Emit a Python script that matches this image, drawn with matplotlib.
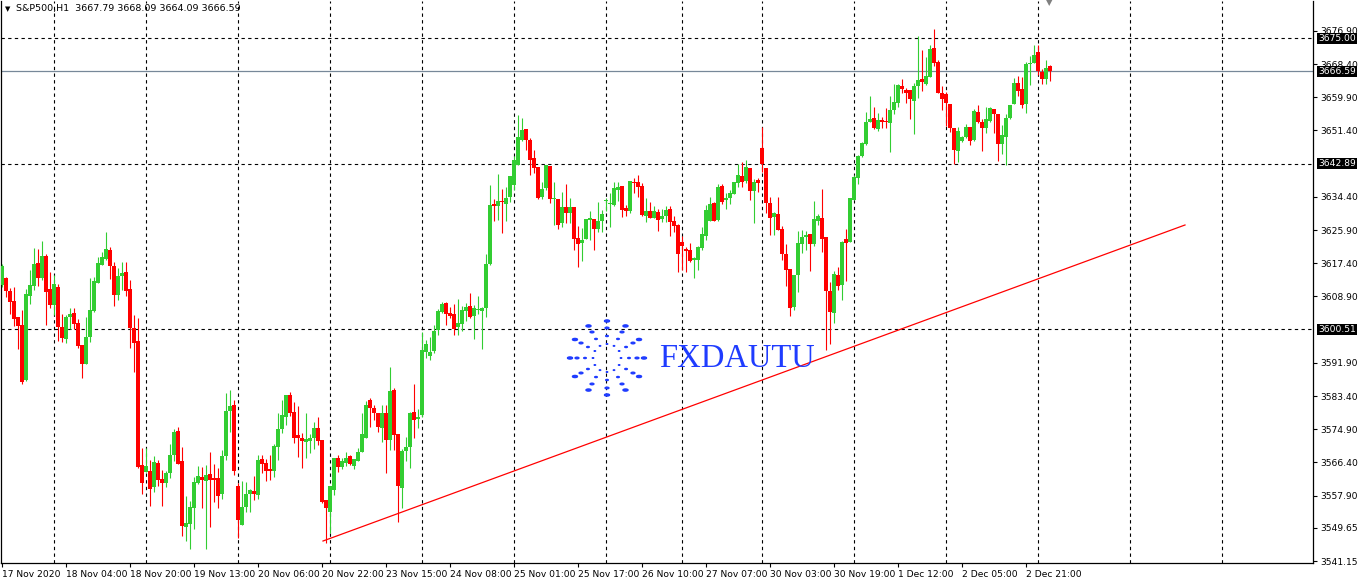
import matplotlib
matplotlib.use("Agg")
import matplotlib.pyplot as plt
from matplotlib.transforms import blended_transform_factory
import numpy as np

# ---------------- data ----------------
header_text = "S&P500,H1  3667.79 3668.09 3664.09 3666.59"

opens = [
    3611.8, 3613.6, 3610.3, 3607.7, 3603.6, 3601.6, 3587.5, 3609.0, 3611.6, 3617.5,
    3613.6, 3619.3, 3610.8, 3606.7, 3611.3, 3601.1, 3598.0, 3603.6, 3604.7, 3602.1,
    3596.5, 3591.6, 3598.5, 3605.2, 3612.4, 3617.0, 3618.5, 3620.8, 3616.7, 3609.3,
    3614.1, 3615.2, 3610.8, 3600.8, 3597.5, 3565.8, 3564.0, 3564.2, 3560.1, 3566.3,
    3562.2, 3561.2, 3563.7, 3568.3, 3574.5, 3566.8, 3549.9, 3550.7, 3554.8, 3561.2,
    3562.7, 3561.7, 3563.5, 3562.4, 3562.4, 3558.3, 3568.1, 3579.6, 3581.1, 3560.4,
    3550.4, 3555.0, 3558.3, 3559.1, 3558.1, 3567.3, 3566.3, 3564.7, 3564.2, 3570.4,
    3575.0, 3578.0, 3583.7, 3579.3, 3573.4, 3572.7, 3571.6, 3571.9, 3572.7, 3575.2,
    3572.2, 3556.8, 3553.7, 3559.4, 3567.6, 3565.2, 3566.3, 3568.1, 3565.5, 3566.8,
    3569.1, 3572.7, 3582.4, 3580.4, 3579.1, 3575.2, 3579.1, 3572.2, 3585.0, 3573.7,
    3559.9, 3569.3, 3570.4, 3579.3, 3577.5, 3578.6, 3594.7, 3593.7, 3595.0, 3600.3,
    3604.9, 3607.2, 3604.7, 3604.4, 3601.1, 3601.9, 3605.2, 3606.5, 3603.9, 3605.4,
    3605.2, 3605.9, 3617.2, 3632.6, 3632.1, 3633.3, 3632.6, 3634.4, 3637.4, 3642.6,
    3649.0, 3651.8, 3649.0, 3644.4, 3642.0, 3634.4, 3636.7, 3642.3, 3633.9, 3633.9,
    3627.7, 3631.8, 3630.3, 3631.8, 3623.9, 3622.6, 3623.6, 3628.5, 3628.7, 3626.2,
    3628.2, 3633.3, 3632.6, 3632.3, 3636.2, 3637.2, 3631.6, 3630.8, 3638.2, 3638.2,
    3637.2, 3629.5, 3630.8, 3629.0, 3630.5, 3628.7, 3629.5, 3631.3, 3628.2, 3627.2,
    3622.8, 3621.1, 3620.8, 3618.2, 3618.2, 3621.3, 3624.4, 3628.2, 3632.8, 3628.5,
    3637.2, 3633.6, 3634.1, 3635.1, 3637.9, 3639.7, 3638.5, 3641.8, 3635.9, 3638.7,
    3646.9, 3641.8, 3632.8, 3629.2, 3630.0, 3626.2, 3619.8, 3615.9, 3606.2, 3614.4,
    3622.3, 3624.1, 3624.9, 3622.3, 3628.2, 3629.0, 3624.1, 3610.3, 3604.7, 3614.4,
    3611.8, 3623.6, 3622.8, 3633.6, 3639.2, 3644.9, 3647.9, 3653.6, 3654.6, 3651.8,
    3654.1, 3653.8, 3653.3, 3656.6, 3658.4, 3662.8, 3661.8, 3661.8, 3658.9, 3662.8,
    3664.6, 3663.3, 3665.1, 3672.5, 3668.9, 3661.0, 3660.7, 3658.2, 3652.0, 3646.1,
    3648.7, 3649.7, 3652.3, 3649.0, 3656.1, 3653.6, 3652.0, 3653.8, 3656.9, 3655.6,
    3647.9, 3649.7, 3654.6, 3658.2, 3663.6, 3662.0, 3658.2, 3668.4, 3668.7, 3671.5,
    3666.4, 3664.6, 3667.79,
]

highs = [
    3617.2, 3613.9, 3611.1, 3611.3, 3603.6, 3605.4, 3610.8, 3615.7, 3621.3, 3621.1,
    3623.1, 3619.8, 3615.2, 3614.4, 3612.1, 3604.4, 3604.2, 3605.9, 3605.9, 3603.1,
    3596.5, 3603.6, 3613.6, 3613.9, 3619.0, 3620.3, 3625.4, 3621.6, 3617.7, 3616.2,
    3617.7, 3617.7, 3613.1, 3604.2, 3603.4, 3570.1, 3570.1, 3567.0, 3568.1, 3567.0,
    3564.5, 3564.2, 3571.1, 3575.0, 3575.5, 3570.4, 3557.8, 3556.5, 3562.7, 3565.5,
    3565.2, 3565.8, 3569.1, 3566.0, 3565.0, 3569.6, 3584.2, 3585.0, 3582.4, 3561.2,
    3561.7, 3561.4, 3559.6, 3563.0, 3568.3, 3568.3, 3567.3, 3568.3, 3571.1, 3579.1,
    3582.4, 3583.7, 3584.4, 3581.9, 3580.9, 3574.0, 3579.1, 3573.7, 3576.8, 3578.0,
    3572.2, 3556.8, 3560.4, 3567.6, 3568.3, 3567.6, 3569.1, 3568.3, 3567.3, 3570.1,
    3579.1, 3582.1, 3582.9, 3581.1, 3579.1, 3581.1, 3581.1, 3590.8, 3585.5, 3573.7,
    3569.9, 3572.9, 3579.3, 3586.5, 3580.1, 3599.8, 3597.8, 3598.5, 3601.6, 3605.7,
    3607.5, 3607.5, 3606.2, 3607.0, 3608.3, 3606.5, 3607.2, 3609.8, 3606.7, 3609.0,
    3606.2, 3619.8, 3637.4, 3633.9, 3640.3, 3636.4, 3636.9, 3639.7, 3644.9, 3655.4,
    3654.6, 3651.8, 3649.5, 3646.4, 3642.0, 3638.2, 3642.6, 3642.3, 3638.2, 3633.9,
    3635.6, 3637.7, 3634.1, 3631.8, 3626.9, 3626.4, 3628.7, 3630.8, 3628.7, 3633.1,
    3631.0, 3634.1, 3635.4, 3638.2, 3638.2, 3637.2, 3632.3, 3638.5, 3639.2, 3640.0,
    3637.9, 3634.1, 3633.1, 3632.1, 3631.3, 3631.3, 3632.1, 3632.1, 3629.5, 3627.5,
    3624.4, 3621.6, 3622.6, 3619.0, 3621.8, 3626.7, 3632.3, 3634.4, 3633.1, 3637.7,
    3637.7, 3635.4, 3636.2, 3638.2, 3642.8, 3643.3, 3643.8, 3641.8, 3639.0, 3639.2,
    3652.3, 3641.8, 3634.4, 3630.5, 3634.4, 3626.9, 3622.3, 3615.9, 3614.4, 3625.7,
    3625.9, 3625.7, 3624.9, 3633.3, 3630.0, 3636.4, 3624.1, 3612.6, 3615.4, 3616.4,
    3623.1, 3626.2, 3634.1, 3640.0, 3645.1, 3648.4, 3656.1, 3660.2, 3657.4, 3655.9,
    3654.8, 3657.2, 3660.2, 3663.3, 3663.3, 3664.6, 3662.3, 3661.8, 3663.6, 3675.6,
    3672.0, 3670.2, 3673.3, 3677.4, 3669.4, 3662.8, 3661.2, 3658.2, 3652.0, 3652.3,
    3650.0, 3653.1, 3652.3, 3656.9, 3657.9, 3654.3, 3657.4, 3657.4, 3656.9, 3655.6,
    3652.8, 3655.6, 3657.9, 3664.8, 3665.3, 3665.1, 3668.9, 3670.5, 3673.3, 3673.3,
    3667.1, 3669.4, 3668.09,
]

lows = [
    3611.3, 3608.8, 3604.4, 3601.3, 3595.5, 3586.5, 3587.3, 3607.0, 3610.6, 3611.6,
    3613.1, 3601.6, 3605.9, 3604.2, 3597.5, 3597.2, 3597.0, 3600.6, 3600.6, 3595.7,
    3588.0, 3591.6, 3597.2, 3604.9, 3612.4, 3617.0, 3618.2, 3613.4, 3606.5, 3608.0,
    3610.6, 3609.0, 3595.7, 3589.6, 3565.0, 3558.3, 3564.0, 3555.3, 3558.8, 3560.4,
    3555.3, 3560.1, 3562.4, 3566.8, 3566.0, 3547.6, 3546.3, 3544.3, 3549.4, 3560.9,
    3554.8, 3544.3, 3549.9, 3556.3, 3554.8, 3557.1, 3567.0, 3574.2, 3563.2, 3547.1,
    3550.4, 3553.7, 3553.7, 3556.8, 3557.1, 3563.7, 3561.7, 3561.9, 3562.7, 3567.0,
    3574.0, 3576.0, 3578.3, 3571.4, 3567.8, 3565.0, 3567.6, 3568.8, 3569.9, 3570.9,
    3556.0, 3545.8, 3548.4, 3558.1, 3564.0, 3564.7, 3565.5, 3565.8, 3564.7, 3566.8,
    3569.1, 3572.7, 3575.5, 3577.3, 3574.2, 3571.6, 3563.7, 3569.6, 3569.6, 3551.2,
    3554.8, 3566.8, 3565.0, 3572.7, 3575.2, 3578.0, 3593.2, 3592.6, 3594.4, 3599.0,
    3604.7, 3601.6, 3603.4, 3599.0, 3599.0, 3600.1, 3602.6, 3603.4, 3598.0, 3604.4,
    3595.5, 3603.6, 3617.0, 3628.2, 3628.5, 3625.2, 3628.2, 3633.1, 3636.2, 3642.6,
    3648.7, 3646.4, 3640.0, 3640.5, 3633.9, 3633.9, 3636.2, 3632.8, 3627.2, 3626.2,
    3626.7, 3627.7, 3627.7, 3620.8, 3616.4, 3618.0, 3623.6, 3623.4, 3620.8, 3625.4,
    3625.4, 3630.8, 3626.7, 3632.1, 3633.3, 3629.2, 3629.5, 3630.3, 3635.4, 3634.4,
    3629.5, 3628.0, 3629.0, 3629.0, 3625.7, 3628.0, 3628.0, 3624.4, 3625.4, 3615.2,
    3615.7, 3615.2, 3617.7, 3613.6, 3615.7, 3620.8, 3623.4, 3628.2, 3628.2, 3628.2,
    3632.6, 3631.3, 3632.6, 3635.1, 3636.9, 3636.9, 3637.9, 3633.6, 3627.7, 3635.6,
    3640.8, 3630.3, 3624.6, 3624.6, 3625.9, 3618.2, 3611.6, 3603.9, 3605.4, 3610.0,
    3620.0, 3620.8, 3615.4, 3621.8, 3627.2, 3620.3, 3595.2, 3596.7, 3602.1, 3610.6,
    3608.0, 3612.9, 3622.8, 3633.6, 3637.7, 3644.6, 3647.7, 3653.6, 3651.8, 3651.3,
    3652.0, 3652.0, 3645.9, 3655.6, 3657.4, 3661.0, 3658.4, 3654.3, 3650.5, 3659.7,
    3661.5, 3663.0, 3665.1, 3667.9, 3661.0, 3656.6, 3652.5, 3651.0, 3642.8, 3643.3,
    3648.4, 3649.5, 3647.7, 3648.7, 3653.3, 3646.1, 3650.8, 3653.6, 3650.8, 3643.6,
    3645.4, 3642.6, 3654.3, 3658.2, 3660.2, 3657.2, 3655.9, 3663.0, 3668.7, 3665.6,
    3663.3, 3663.3, 3664.09,
]

closes = [
    3616.7, 3610.3, 3607.5, 3603.1, 3601.3, 3587.0, 3609.5, 3611.8, 3617.2, 3613.6,
    3619.3, 3610.0, 3606.7, 3612.1, 3601.1, 3598.3, 3603.6, 3604.4, 3601.9, 3596.2,
    3591.6, 3598.5, 3605.4, 3612.9, 3617.5, 3619.0, 3621.1, 3616.7, 3609.3, 3614.1,
    3614.9, 3610.3, 3600.8, 3597.0, 3565.2, 3561.2, 3565.5, 3559.6, 3566.5, 3561.9,
    3561.2, 3563.7, 3568.3, 3574.2, 3566.0, 3550.1, 3550.9, 3555.0, 3561.4, 3563.0,
    3561.9, 3563.2, 3561.9, 3561.9, 3557.8, 3568.1, 3579.6, 3580.9, 3564.2, 3551.7,
    3555.0, 3558.3, 3559.4, 3558.3, 3567.0, 3566.0, 3564.2, 3564.2, 3570.6, 3575.0,
    3578.6, 3583.7, 3579.1, 3572.7, 3572.7, 3571.9, 3572.4, 3572.7, 3575.2, 3571.9,
    3556.3, 3554.8, 3560.4, 3567.6, 3565.2, 3566.8, 3567.6, 3566.0, 3567.3, 3569.1,
    3573.7, 3581.1, 3580.4, 3579.1, 3575.5, 3579.1, 3572.2, 3584.7, 3573.4, 3560.4,
    3569.3, 3570.4, 3579.1, 3577.3, 3578.0, 3595.2, 3596.7, 3594.7, 3600.1, 3605.2,
    3607.0, 3604.4, 3603.9, 3600.6, 3602.1, 3605.4, 3606.2, 3603.6, 3605.9, 3605.7,
    3605.9, 3617.2, 3632.3, 3632.1, 3633.3, 3633.1, 3634.1, 3639.7, 3643.8, 3649.7,
    3651.5, 3649.0, 3643.8, 3641.8, 3634.1, 3636.4, 3642.6, 3633.9, 3634.1, 3627.2,
    3631.8, 3630.3, 3631.8, 3623.6, 3622.3, 3623.4, 3628.7, 3629.0, 3626.2, 3628.2,
    3630.0, 3633.6, 3632.8, 3636.7, 3636.9, 3631.0, 3630.8, 3638.5, 3637.9, 3636.9,
    3629.8, 3630.8, 3629.0, 3630.8, 3628.5, 3629.5, 3631.0, 3628.0, 3626.9, 3619.8,
    3621.8, 3620.5, 3618.0, 3618.8, 3621.6, 3624.9, 3631.0, 3632.6, 3628.2, 3636.9,
    3633.1, 3634.1, 3635.4, 3638.2, 3640.0, 3638.2, 3642.0, 3635.9, 3638.2, 3637.9,
    3642.8, 3632.8, 3629.0, 3630.3, 3625.9, 3619.8, 3615.7, 3605.9, 3614.4, 3622.6,
    3624.1, 3624.6, 3622.3, 3628.7, 3629.5, 3623.6, 3610.3, 3604.9, 3614.7, 3611.6,
    3622.8, 3622.6, 3634.1, 3639.5, 3644.9, 3648.2, 3653.6, 3654.3, 3652.0, 3654.1,
    3653.6, 3653.6, 3656.6, 3658.7, 3663.0, 3662.0, 3661.0, 3659.5, 3662.8, 3664.3,
    3663.8, 3665.3, 3672.3, 3668.7, 3661.0, 3659.5, 3658.4, 3652.0, 3646.4, 3651.3,
    3649.7, 3652.3, 3648.7, 3656.4, 3653.6, 3652.0, 3654.3, 3657.2, 3655.6, 3647.9,
    3650.2, 3654.6, 3657.9, 3663.6, 3661.5, 3657.9, 3668.4, 3668.7, 3670.7, 3666.6,
    3664.6, 3667.4, 3666.59,
]

time_labels = [
    "17 Nov 2020", "18 Nov 04:00", "18 Nov 20:00", "19 Nov 13:00", "20 Nov 06:00",
    "20 Nov 22:00", "23 Nov 15:00", "24 Nov 08:00", "25 Nov 01:00", "25 Nov 17:00",
    "26 Nov 10:00", "27 Nov 07:00", "30 Nov 03:00", "30 Nov 19:00", "1 Dec 12:00",
    "2 Dec 05:00", "2 Dec 21:00",
]
bars_per_label = 16
day_separator_bars = [13, 36, 59, 82, 105, 128, 151, 170, 190, 213, 236, 259, 282, 305]

price_ticks = [3541.15, 3549.65, 3557.90, 3566.40, 3574.90, 3583.40, 3591.90,
               3608.90, 3617.40, 3625.90, 3634.40, 3651.40, 3659.90, 3668.40, 3676.90]
level_lines = [3675.00, 3642.89, 3600.51]
bid_price = 3666.59

trend_bar = [80.25, 295.75]
trend_price = [3546.3, 3627.2]

y_range = [3540.67, 3684.54]
x_range = [-0.25, 327.75]

# ---------------- figure ----------------
W, H = 1361, 582
fig = plt.figure(figsize=(W / 100, H / 100), dpi=100)
fig.patch.set_facecolor("white")
ax = fig.add_axes([1 / W, (H - 563) / H, 1312 / W, 562 / H])
ax.set_facecolor("white")
ax.set_xlim(*x_range)
ax.set_ylim(*y_range)

o = np.array(opens)
h = np.array(highs)
l = np.array(lows)
c = np.array(closes)
n = min(len(o), len(h), len(l), len(c))
o, h, l, c = o[:n], h[:n], l[:n], c[:n]
x = np.arange(n)
up = c >= o
cols = np.where(up, "#32CD32", "#FF0000")

# grid (day separators) and level lines
for b in day_separator_bars:
    ax.axvline(b, color="black", lw=0.8, ls=(0, (3, 3)), zorder=1)
for v in level_lines:
    ax.axhline(v, color="black", lw=0.8, ls=(0, (3, 3)), zorder=1)
ax.axhline(bid_price, color="#778899", lw=0.9, zorder=2)

# candles
ax.vlines(x, l, h, colors=cols, linewidth=0.8, zorder=3)
body_bottom = np.minimum(o, c)
body_h = np.maximum(np.abs(c - o), 0.3)
ax.bar(x, body_h, bottom=body_bottom, width=0.78, color=cols, linewidth=0, zorder=4)

# trend line
ax.plot(trend_bar, trend_price, color="#FF0000", lw=0.9, zorder=5)

# axes styling
for side in ["left", "right", "bottom"]:
    ax.spines[side].set_color("black")
    ax.spines[side].set_linewidth(0.9)
ax.spines["top"].set_visible(False)

ax.yaxis.tick_right()
ax.set_yticks(price_ticks)
ax.set_yticklabels([f"{v:.2f}" for v in price_ticks])
ax.tick_params(axis="y", direction="out", length=3, width=0.8, pad=2,
               labelsize=6.6, colors="black", left=False)

label_pos = [i * bars_per_label for i in range(len(time_labels))]
ax.set_xticks(label_pos)
ax.set_xticklabels(time_labels, ha="left")
ax.tick_params(axis="x", direction="out", length=3, width=0.8, pad=2,
               labelsize=6.6, colors="black")

# highlighted price labels on the right axis
bt = blended_transform_factory(ax.transAxes, ax.transData)
for v in level_lines + [bid_price]:
    ax.text(1.0 + 5 / 1312, v, f"{v:.2f}", transform=bt, color="white",
            fontsize=6.6, va="center", ha="left", zorder=10, clip_on=False,
            bbox=dict(boxstyle="square,pad=0.12", fc="black", ec="none"))

# header text
fig.text(5 / W, 1 - 9 / H, "\u25BC", fontsize=5, color="black", va="center", ha="left")
fig.text(16 / W, 1 - 9 / H, header_text, fontsize=6.8, color="black",
         va="center", ha="left")

# chart shift marker
fig.text(1049 / W, 1 - 3 / H, "\u25BC", fontsize=6, color="#808080",
         va="center", ha="center")

# watermark logo (decoration)
cx, cy = 607, 358
for k in range(12):
    ang = np.deg2rad(k * 30)
    for j, r in enumerate([14, 22, 30, 37]):
        px = cx + r * np.cos(ang)
        py = cy - r * np.sin(ang)
        fig.patches.append(plt.Circle((px / W, 1 - py / H), radius=(0.7 + 0.6 * j) / W,
                                      transform=fig.transFigure, color="#1f3cff",
                                      zorder=20))
fig.text(659 / W, 1 - 359 / H, "FXDAUTU", fontsize=23.5, family="Liberation Serif",
         color="#1f3cff", va="center", ha="left")

fig.savefig("out.png", dpi=100, facecolor="white")
